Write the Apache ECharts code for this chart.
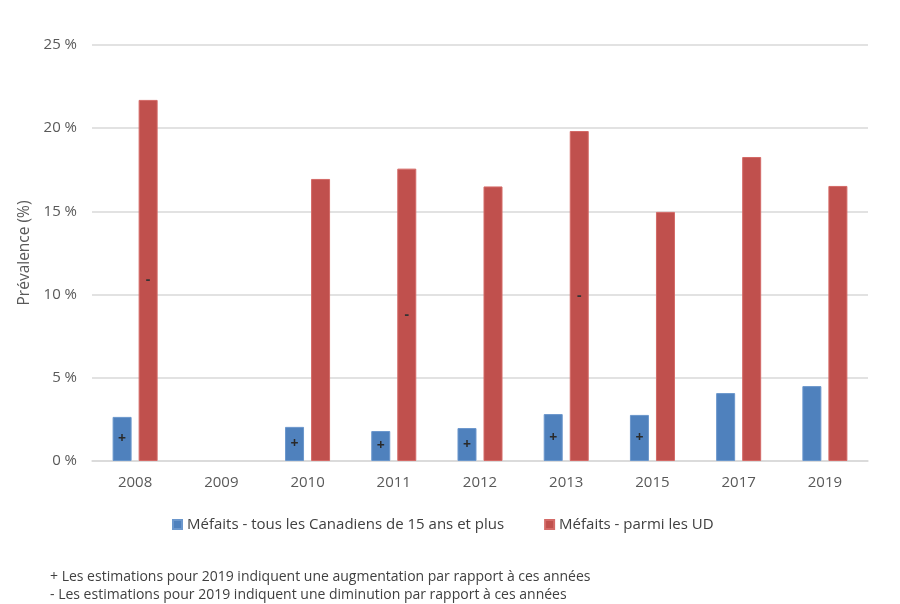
<!DOCTYPE html>
<html><head><meta charset="utf-8">
<script src="https://cdn.jsdelivr.net/npm/echarts@6/dist/echarts.min.js"></script>
<style>html,body{margin:0;padding:0;background:#fff}#c{width:900px;height:604px}</style>
</head><body><div id="c"></div>
<script>
const categories = ['2008','2009','2010','2011','2012','2013','2015','2017','2019'];
const allCanadians = [2.65, null, 2.05, 1.8, 1.98, 2.82, 2.77, 4.08, 4.5];
const amongUD = [21.7, null, 16.95, 17.57, 16.5, 19.83, 14.97, 18.27, 16.53];
const allMarks = ['+', '', '+', '+', '+', '+', '+', '', ''];
const udMarks = ['-', '', '', '-', '', '-', '', '', ''];
const seriesNames = ['Méfaits - tous les Canadiens de 15 ans et plus', 'Méfaits - parmi les UD'];
const yTicks = [0, 5, 10, 15, 20, 25];
const footnotes = ['+ Les estimations pour 2019 indiquent une augmentation par rapport à ces années',
                   '- Les estimations pour 2019 indiquent une diminution par rapport à ces années'];

const FONT = '"Open Sans", sans-serif';
const chart = echarts.init(document.getElementById('c'));
chart.setOption({
  animation: false,
  grid: { left: 92, right: 32, top: 45, bottom: 143 },
  legend: {
    left: 167, top: 512, itemWidth: 9, itemHeight: 9, itemGap: 40, icon: 'rect',
    textStyle: { fontFamily: FONT, fontSize: 15, color: '#404040' },
    data: seriesNames
  },
  xAxis: {
    type: 'category', data: categories,
    axisLine: { lineStyle: { color: '#d9d9d9', width: 1.5 } },
    axisTick: { show: false },
    axisLabel: { fontFamily: FONT, fontSize: 15, color: '#595959', margin: 14 }
  },
  yAxis: {
    type: 'value', min: yTicks[0], max: yTicks[yTicks.length-1], interval: 5,
    name: 'Prévalence (%)', nameLocation: 'middle', nameGap: 52,
    nameTextStyle: { fontFamily: FONT, fontSize: 15.5, color: '#595959' },
    axisLine: { show: false }, axisTick: { show: false },
    axisLabel: { fontFamily: FONT, fontSize: 15, color: '#595959', margin: 15,
      formatter: v => v + ' %' },
    splitLine: { lineStyle: { color: '#d9d9d9', width: 1.5 } }
  },
  series: [
    { name: seriesNames[0], type: 'bar', data: allCanadians, barWidth: 19, barGap: '37%',
      itemStyle: { color: '#4f81bd', borderColor: '#6b97cc', borderWidth: 1 },
      label: { show: true, position: 'inside', color: '#2a2a2a', fontFamily: FONT, fontSize: 14, fontWeight: 'bold',
        formatter: p => allMarks[p.dataIndex] } },
    { name: seriesNames[1], type: 'bar', data: amongUD, barWidth: 19,
      itemStyle: { color: '#c0504d', borderColor: '#d46a67', borderWidth: 1 },
      label: { show: true, position: 'inside', color: '#333', fontFamily: FONT, fontSize: 14, fontWeight: 'bold',
        formatter: p => udMarks[p.dataIndex] } }
  ],
  graphic: footnotes.map((t, i) => ({
    type: 'text', left: 50, top: 570 + i * 18,
    style: { text: t, font: '14px ' + FONT, fill: '#404040' }
  }))
});
</script></body></html>
